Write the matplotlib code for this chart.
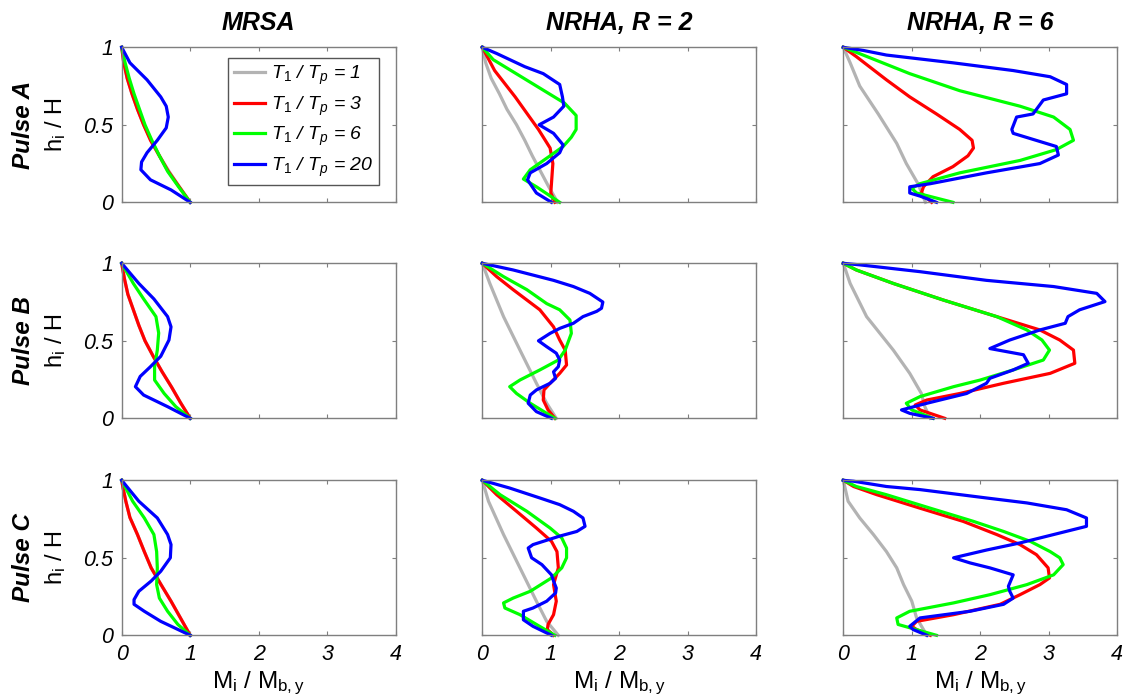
import matplotlib
matplotlib.use("Agg")
import matplotlib.pyplot as plt

plt.rcParams['font.family'] = ['Liberation Sans', 'DejaVu Sans']
plt.rcParams['mathtext.fontset'] = 'custom'
plt.rcParams['mathtext.rm'] = 'Liberation Sans'
plt.rcParams['mathtext.it'] = 'Liberation Sans:italic'
plt.rcParams['mathtext.bf'] = 'Liberation Sans:bold'
plt.rcParams['mathtext.default'] = 'it'

# ---------------------------------------------------------------- data
# Each curve: list of (M_i / M_b,y , h_i / H) points, top of the frame to base.
col_titles = ['MRSA', 'NRHA, R = 2', 'NRHA, R = 6']
row_titles = ['Pulse A', 'Pulse B', 'Pulse C']
ratios = ['1', '3', '6', '20']
x_ticks = [0, 1, 2, 3, 4]
x_tick_labels = ['0', '1', '2', '3', '4']
y_ticks = [0, 0.5, 1]
y_tick_labels = ['0', '0.5', '1']

# Pulse A -- MRSA
a_mrsa_1 = [(0, 1), (0.03, 0.9), (0.08, 0.8), (0.15, 0.7), (0.23, 0.6), (0.32, 0.5),
            (0.43, 0.4), (0.55, 0.3), (0.69, 0.2), (0.84, 0.1), (1.0, 0)]
a_mrsa_3 = [(0, 1), (0.03, 0.9), (0.08, 0.8), (0.15, 0.7), (0.23, 0.6), (0.32, 0.5),
            (0.42, 0.4), (0.55, 0.3), (0.68, 0.2), (0.84, 0.1), (1.0, 0)]
a_mrsa_6 = [(0, 1), (0.05, 0.9), (0.11, 0.8), (0.18, 0.7), (0.26, 0.6), (0.34, 0.5),
            (0.44, 0.4), (0.55, 0.3), (0.67, 0.2), (0.83, 0.1), (1.0, 0)]
a_mrsa_20 = [(0, 1), (0.12, 0.9), (0.37, 0.79), (0.57, 0.68), (0.65, 0.62), (0.68, 0.55),
             (0.65, 0.48), (0.52, 0.40), (0.37, 0.32), (0.29, 0.26), (0.28, 0.21),
             (0.42, 0.145), (0.72, 0.08), (1.0, 0)]

# Pulse A -- NRHA, R = 2
a_r2_1 = [(0, 1), (0.05, 0.9), (0.13, 0.8), (0.25, 0.7), (0.36, 0.6), (0.50, 0.5),
          (0.62, 0.4), (0.73, 0.3), (0.85, 0.2), (0.97, 0.1), (1.1, 0)]
a_r2_3 = [(0, 1), (0.18, 0.85), (0.48, 0.68), (0.69, 0.55), (0.82, 0.47), (0.99, 0.35),
          (1.03, 0.25), (1.0, 0.06), (1.06, 0)]
a_r2_6 = [(0, 1), (0.16, 0.92), (1.2, 0.64), (1.37, 0.56), (1.37, 0.47), (1.3, 0.42),
          (1.18, 0.36), (0.99, 0.3), (0.7, 0.21), (0.6, 0.15), (0.79, 0.10), (1.13, 0)]
a_r2_20 = [(0, 1), (0.21, 0.96), (0.62, 0.875), (0.89, 0.83), (1.13, 0.76), (1.17, 0.68),
           (1.19, 0.62), (1.04, 0.55), (0.83, 0.5), (1.04, 0.445), (1.18, 0.37),
           (1.13, 0.32), (0.94, 0.25), (0.7, 0.19), (0.66, 0.145), (0.79, 0.06), (1.01, 0)]

# Pulse A -- NRHA, R = 6
a_r6_1 = [(0, 1), (0.1, 0.9), (0.24, 0.75), (0.51, 0.57), (0.78, 0.38), (0.92, 0.25),
          (1.09, 0.12), (1.2, 0)]
a_r6_3 = [(0, 1), (0.19, 0.94), (0.63, 0.79), (0.97, 0.68), (1.36, 0.57), (1.7, 0.47),
          (1.88, 0.40), (1.9, 0.35), (1.82, 0.30), (1.6, 0.23), (1.31, 0.165),
          (1.17, 0.10), (1.14, 0.06), (1.29, 0)]
a_r6_6 = [(0, 1), (0.29, 0.95), (0.97, 0.83), (1.7, 0.72), (2.58, 0.62), (3.07, 0.55),
          (3.31, 0.47), (3.36, 0.40), (3.11, 0.34), (2.58, 0.27), (1.7, 0.19),
          (1.12, 0.12), (1.0, 0.09), (1.07, 0.06), (1.6, 0)]
a_r6_20 = [(0, 1), (0.29, 0.98), (0.63, 0.95), (1.6, 0.9), (2.48, 0.85), (3.02, 0.81),
           (3.26, 0.76), (3.26, 0.70), (2.92, 0.66), (2.77, 0.57), (2.53, 0.55),
           (2.46, 0.47), (2.48, 0.445), (3.11, 0.36), (3.14, 0.305), (2.87, 0.25),
           (2.09, 0.19), (1.27, 0.12), (0.97, 0.10), (0.97, 0.06), (1.12, 0.04), (1.36, 0)]

# Pulse B -- MRSA
b_mrsa_1 = [(0, 1), (0.04, 0.9), (0.09, 0.8), (0.17, 0.7), (0.25, 0.6), (0.34, 0.5),
            (0.46, 0.4), (0.59, 0.3), (0.73, 0.2), (0.86, 0.1), (1.0, 0)]
b_mrsa_3 = [(0, 1), (0.04, 0.9), (0.09, 0.8), (0.17, 0.7), (0.25, 0.6), (0.34, 0.5),
            (0.46, 0.4), (0.59, 0.3), (0.73, 0.2), (0.86, 0.1), (1.0, 0)]
b_mrsa_6 = [(0, 1), (0.17, 0.87), (0.32, 0.77), (0.5, 0.656), (0.54, 0.55), (0.52, 0.44),
            (0.48, 0.333), (0.48, 0.247), (0.62, 0.16), (0.79, 0.075), (1.0, 0)]
b_mrsa_20 = [(0, 1), (0.25, 0.87), (0.47, 0.77), (0.67, 0.656), (0.72, 0.59), (0.69, 0.505),
             (0.57, 0.40), (0.42, 0.333), (0.27, 0.27), (0.2, 0.204), (0.32, 0.15),
             (0.67, 0.075), (1.0, 0)]

# Pulse B -- NRHA, R = 2
b_r2_1 = [(0, 1), (0.11, 0.87), (0.31, 0.656), (0.55, 0.44), (0.79, 0.226), (0.94, 0.097),
          (1.08, 0)]
b_r2_3 = [(0, 1), (0.21, 0.914), (0.45, 0.83), (0.84, 0.70), (1.04, 0.59), (1.13, 0.505),
          (1.21, 0.44), (1.23, 0.344), (1.13, 0.29), (0.99, 0.226), (0.9, 0.183),
          (0.89, 0.118), (0.96, 0.054), (1.06, 0)]
b_r2_6 = [(0, 1), (0.31, 0.914), (0.65, 0.83), (0.94, 0.74), (1.13, 0.70), (1.28, 0.634),
          (1.3, 0.548), (1.21, 0.44), (1.11, 0.376), (0.84, 0.312), (0.55, 0.247),
          (0.4, 0.204), (0.5, 0.16), (0.7, 0.097), (0.94, 0.032), (1.06, 0)]
b_r2_20 = [(0, 1), (0.45, 0.957), (1.04, 0.89), (1.33, 0.85), (1.57, 0.806), (1.76, 0.75),
           (1.74, 0.71), (1.67, 0.69), (1.47, 0.656), (1.33, 0.613), (1.13, 0.58),
           (0.99, 0.548), (0.82, 0.5), (0.94, 0.462), (1.08, 0.42), (1.13, 0.376),
           (1.11, 0.333), (1.04, 0.3), (1.07, 0.258), (0.99, 0.226), (0.79, 0.183),
           (0.7, 0.15), (0.67, 0.097), (0.79, 0.043), (1.01, 0)]

# Pulse B -- NRHA, R = 6
b_r6_1 = [(0, 1), (0.1, 0.87), (0.34, 0.656), (0.73, 0.44), (0.97, 0.29), (1.14, 0.16),
          (1.19, 0.075), (1.27, 0)]
b_r6_3 = [(0, 1), (0.19, 0.957), (0.73, 0.87), (1.46, 0.763), (2.24, 0.656), (2.87, 0.57),
          (3.16, 0.505), (3.36, 0.44), (3.38, 0.355), (3.02, 0.29), (2.34, 0.226),
          (1.7, 0.16), (1.22, 0.118), (1.05, 0.086), (1.12, 0.054), (1.48, 0)]
b_r6_6 = [(0, 1), (0.19, 0.957), (0.73, 0.87), (1.46, 0.763), (2.24, 0.656), (2.68, 0.57),
          (2.9, 0.505), (3.01, 0.44), (2.92, 0.376), (2.48, 0.312), (2.0, 0.247),
          (1.61, 0.204), (1.12, 0.14), (0.92, 0.097), (1.0, 0.054), (1.31, 0)]
b_r6_20 = [(0, 1), (0.24, 0.99), (1.12, 0.946), (2.09, 0.89), (3.07, 0.85), (3.7, 0.806),
           (3.82, 0.753), (3.45, 0.7), (3.28, 0.656), (3.24, 0.613), (2.87, 0.57),
           (2.43, 0.505), (2.14, 0.45), (2.63, 0.41), (2.7, 0.355), (2.48, 0.312),
           (2.14, 0.258), (2.09, 0.226), (1.8, 0.16), (1.22, 0.097), (0.85, 0.054),
           (0.97, 0.032), (1.31, 0)]

# Pulse C -- MRSA
c_mrsa_1 = [(0, 1), (0.02, 0.95), (0.06, 0.865), (0.12, 0.76), (0.23, 0.65), (0.33, 0.54),
            (0.43, 0.435), (0.57, 0.33), (0.72, 0.22), (0.86, 0.11), (1.0, 0)]
c_mrsa_3 = [(0, 1), (0.02, 0.95), (0.06, 0.865), (0.12, 0.76), (0.23, 0.65), (0.33, 0.54),
            (0.43, 0.435), (0.57, 0.33), (0.72, 0.22), (0.86, 0.11), (1.0, 0)]
c_mrsa_6 = [(0, 1), (0.16, 0.865), (0.33, 0.757), (0.47, 0.65), (0.51, 0.54), (0.52, 0.435),
            (0.51, 0.327), (0.55, 0.24), (0.67, 0.155), (0.82, 0.07), (1.0, 0)]
c_mrsa_20 = [(0, 1), (0.25, 0.865), (0.52, 0.757), (0.67, 0.65), (0.72, 0.585), (0.71, 0.5),
             (0.57, 0.413), (0.43, 0.35), (0.25, 0.284), (0.18, 0.23), (0.18, 0.2),
             (0.33, 0.155), (0.57, 0.09), (1.0, 0)]

# Pulse C -- NRHA, R = 2
c_r2_1 = [(0, 1), (0.09, 0.865), (0.31, 0.65), (0.55, 0.435), (0.79, 0.22), (0.94, 0.09),
          (1.11, 0)]
c_r2_3 = [(0, 1), (0.21, 0.907), (0.5, 0.8), (0.79, 0.692), (1.01, 0.606), (1.09, 0.54),
          (1.11, 0.435), (1.04, 0.327), (1.08, 0.22), (1.04, 0.133), (0.96, 0.07),
          (0.95, 0.037), (1.04, 0)]
c_r2_6 = [(0, 1), (0.26, 0.907), (0.65, 0.8), (0.99, 0.692), (1.16, 0.628), (1.23, 0.563),
          (1.23, 0.5), (1.16, 0.435), (1.01, 0.37), (0.7, 0.284), (0.45, 0.24),
          (0.31, 0.209), (0.33, 0.176), (0.55, 0.133), (0.79, 0.07), (1.06, 0)]
c_r2_20 = [(0, 1), (0.4, 0.95), (0.84, 0.886), (1.13, 0.843), (1.33, 0.8), (1.47, 0.757),
           (1.5, 0.703), (1.38, 0.67), (1.13, 0.64), (0.74, 0.585), (0.67, 0.563),
           (0.72, 0.5), (0.87, 0.456), (1.01, 0.39), (1.04, 0.35), (1.08, 0.305),
           (1.07, 0.273), (0.94, 0.22), (0.74, 0.176), (0.6, 0.155), (0.6, 0.1),
           (0.74, 0.058), (1.01, 0)]

# Pulse C -- NRHA, R = 6
c_r6_1 = [(0, 1), (0.07, 0.865), (0.24, 0.757), (0.44, 0.65), (0.63, 0.54), (0.78, 0.435),
          (0.88, 0.327), (1.0, 0.22), (1.07, 0.112), (1.22, 0)]
c_r6_3 = [(0, 1), (0.15, 0.96), (0.49, 0.907), (1.12, 0.82), (1.75, 0.735), (2.24, 0.65),
          (2.58, 0.585), (2.82, 0.52), (2.99, 0.435), (3.01, 0.37), (2.87, 0.327),
          (2.58, 0.262), (2.29, 0.2), (1.61, 0.133), (1.07, 0.09), (1.0, 0.058),
          (1.07, 0.037), (1.27, 0)]
c_r6_6 = [(0, 1), (0.19, 0.96), (0.63, 0.907), (1.27, 0.82), (1.9, 0.735), (2.34, 0.67),
          (2.73, 0.606), (3.02, 0.54), (3.16, 0.5), (3.21, 0.456), (3.07, 0.39),
          (2.68, 0.327), (2.14, 0.262), (1.61, 0.209), (0.97, 0.155), (0.78, 0.112),
          (0.8, 0.07), (1.36, 0)]
c_r6_20 = [(0, 1), (0.15, 0.994), (0.63, 0.96), (1.12, 0.94), (2.09, 0.886), (2.68, 0.854),
           (3.26, 0.81), (3.55, 0.757), (3.55, 0.703), (3.07, 0.65), (2.58, 0.596),
           (2.09, 0.55), (1.61, 0.5), (1.85, 0.467), (2.14, 0.435), (2.48, 0.39),
           (2.41, 0.316), (2.43, 0.284), (2.48, 0.24), (2.34, 0.2), (1.85, 0.155),
           (1.12, 0.112), (0.97, 0.058), (1.02, 0.037), (1.22, 0)]

panels = [
    [[a_mrsa_1, a_mrsa_3, a_mrsa_6, a_mrsa_20],
     [a_r2_1, a_r2_3, a_r2_6, a_r2_20],
     [a_r6_1, a_r6_3, a_r6_6, a_r6_20]],
    [[b_mrsa_1, b_mrsa_3, b_mrsa_6, b_mrsa_20],
     [b_r2_1, b_r2_3, b_r2_6, b_r2_20],
     [b_r6_1, b_r6_3, b_r6_6, b_r6_20]],
    [[c_mrsa_1, c_mrsa_3, c_mrsa_6, c_mrsa_20],
     [c_r2_1, c_r2_3, c_r2_6, c_r2_20],
     [c_r6_1, c_r6_3, c_r6_6, c_r6_20]],
]

# ---------------------------------------------------------------- style
colors = ['#b3b3b3', '#ff0000', '#00ff00', '#0000ff']
line_w = 2.3
frame_col = '#7f7f7f'

W, H = 1126, 699
fig = plt.figure(figsize=(W / 100, H / 100), dpi=100)

lefts = [121.7, 482.3, 843.3]
tops = [47.3, 263.3, 480.3]
aw, ah = 274, 155

tick_font = dict(fontsize=15.5, fontstyle='italic')

for r in range(3):
    for c in range(3):
        ax = fig.add_axes([lefts[c] / W, 1 - (tops[r] + ah) / H, aw / W, ah / H])
        for k, curve in enumerate(panels[r][c]):
            xs = [p[0] for p in curve]
            ys = [p[1] for p in curve]
            ax.plot(xs, ys, color=colors[k], lw=line_w, solid_joinstyle='round',
                    label='T$_1$ / T$_p$ = ' + ratios[k], clip_on=False)
        ax.set_xlim(0, 4)
        ax.set_ylim(0, 1)
        ax.set_xticks(x_ticks)
        ax.set_yticks(y_ticks)
        ax.tick_params(direction='in', length=3, width=0.8, color=frame_col,
                       top=True, right=True, pad=6)
        for s in ax.spines.values():
            s.set_color(frame_col)
            s.set_linewidth(1.0)
        if r == 2:
            ax.set_xticklabels(x_tick_labels, **tick_font)
        else:
            ax.set_xticklabels([])
        if c == 0:
            ax.set_yticklabels(y_tick_labels, **tick_font)
        else:
            ax.set_yticklabels([])
        if r == 0 and c == 0:
            leg = ax.legend(loc='upper right', bbox_to_anchor=(0.939, 0.931),
                            borderaxespad=0, prop=dict(size=14, style='italic'),
                            handlelength=1.6, handletextpad=0.3,
                            labelspacing=0.38, borderpad=0.3, fancybox=False,
                            framealpha=1, edgecolor='#555555')
            leg.get_frame().set_linewidth(1.0)
        if c == 0:
            yc = 1 - (tops[r] + ah / 2) / H
            fig.text(24 / W, yc, row_titles[r], rotation=90, ha='center', va='center',
                     fontsize=17.5, fontweight='bold', fontstyle='italic')
            fig.text(56 / W, yc, r'$\mathrm{h_i\ /\ H}$', rotation=90, ha='center',
                     va='center', fontsize=17)
        if r == 0:
            fig.text((lefts[c] + aw / 2) / W, 1 - 23 / H, col_titles[c], ha='center',
                     va='center', fontsize=18, fontweight='bold', fontstyle='italic')
        if r == 2:
            fig.text((lefts[c] + aw / 2) / W, 1 - 688 / H,
                     r'$\mathrm{M_i\ /\ M_{b,y}}$', ha='center', va='baseline',
                     fontsize=17.5)

fig.savefig('out.png', dpi=100)
